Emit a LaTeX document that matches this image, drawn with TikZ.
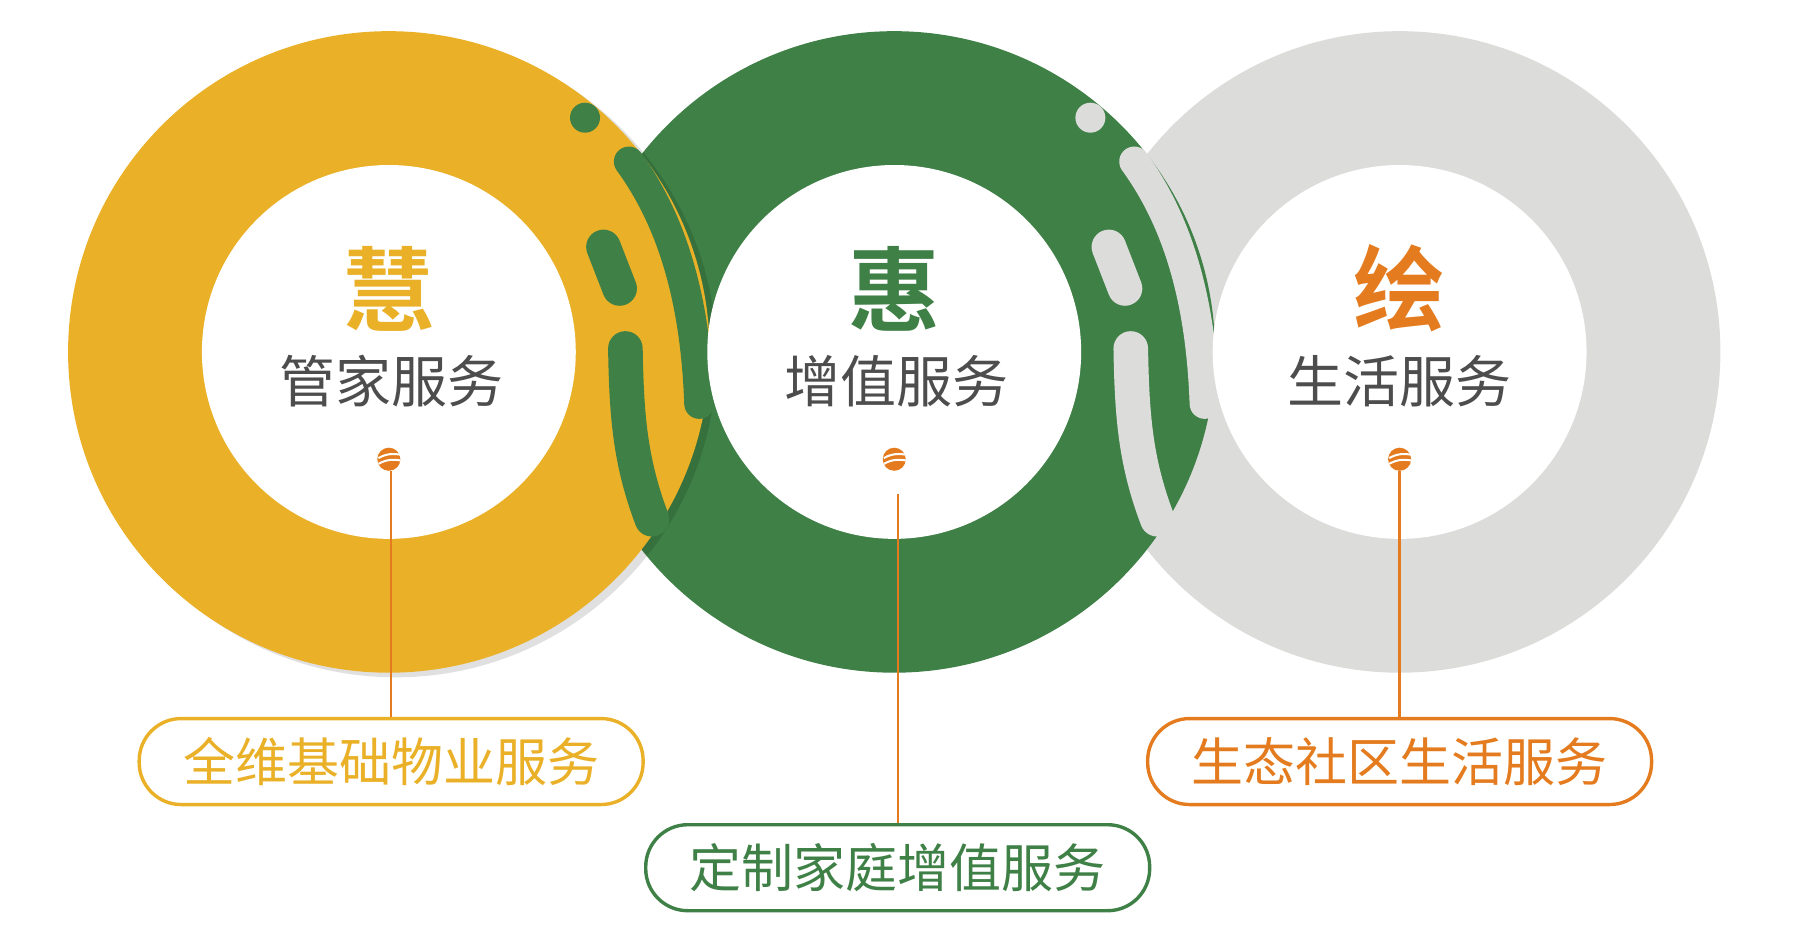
\documentclass[tikz,border=0pt]{standalone}
\usepackage{fontspec}
\newfontfamily\cjk{Noto Sans CJK SC}
\newfontfamily\cjkb{Noto Sans CJK SC Bold}
\definecolor{cy}{HTML}{EAB128}
\definecolor{cg}{HTML}{3E8046}
\definecolor{cgr}{HTML}{DCDCDB}
\definecolor{co}{HTML}{E47C1F}
\definecolor{ct}{HTML}{4D4D4D}
\tikzset{
 big/.style={font=\cjkb\fontsize{46pt}{46pt}\selectfont},
 sub/.style={font=\cjk\fontsize{28pt}{28pt}\selectfont,text=ct},
 tag/.style={draw,line width=1.7pt,rounded corners=21pt,minimum width=252pt,minimum height=43pt,font=\cjk\fontsize{26pt}{26pt}\selectfont,fill=white},
 lead/.style={co,line width=1.2pt},
}
\newcommand{\deco}[3]{% offset, colorB, colorA
\begin{scope}[xshift=#1*0.577pt]
 \fill[#2] (507,102) circle (13);
 \draw[#2,line width=26pt*0.577,line cap=round] (545,140) .. controls (585,195) and (603,265) .. (606,350);
 \draw[#2,line width=30*0.577pt,line cap=round] (523,214) -- (537,250);
 \draw[#2,line width=30*0.577pt,line cap=round] (542,302) .. controls (543,360) and (546,400) .. (565,450);
 \draw[#3,line width=26*0.577pt,line cap=round] (573,308) -- (576,342);
 \fill[#3] (585,382) circle (15);
\end{scope}}
\begin{document}
\begin{tikzpicture}[x=0.577pt,y=-0.577pt]
\useasboundingbox (0,0) rectangle (1560,809);
\fill[cgr] (1213,305) circle (278);
\fill[cg] (775,305) circle (278);
\fill[black,opacity=0.12] (343,309) circle (278);
\fill[cy] (337,305) circle (278);
\deco{0}{cg}{cy}
\deco{438}{cgr}{cg}
\foreach \x/\n in {337/a,775/b,1213/c}{
 \fill[white] (\x,305) circle (162);
 \fill[co] (\x,398) circle (10);
 \draw[white,line width=1pt] (\x-9,397) .. controls (\x-2,393) and (\x+4,393) .. (\x+10,394);
 \draw[white,line width=1pt] (\x-9,402) .. controls (\x-2,398) and (\x+4,398) .. (\x+10,399);
}
\node[big,text=cy] (t1) at (337,250) {慧};
\node[big,text=cg] (t2) at (775,250) {惠};
\node[big,text=co] (t3) at (1213,250) {绘};
\node[sub] (s1) at (339,330) {管家服务};
\node[sub] (s2) at (777,330) {增值服务};
\node[sub] (s3) at (1213,330) {生活服务};
\coordinate (m1) at (339,408);
\coordinate (m2) at (778,428);
\coordinate (m3) at (1213,408);
\node[tag,draw=cy,text=cy] (b1) at (339,660) {全维基础物业服务};
\node[tag,draw=cg,text=cg] (b2) at (778,752) {定制家庭增值服务};
\node[tag,draw=co,text=co] (b3) at (1213,660) {生态社区生活服务};
\draw[lead] (m1) -- (b1.north);
\draw[lead] (m2) -- (b2.north);
\draw[lead] (m3) -- (b3.north);
\end{tikzpicture}
\end{document}
